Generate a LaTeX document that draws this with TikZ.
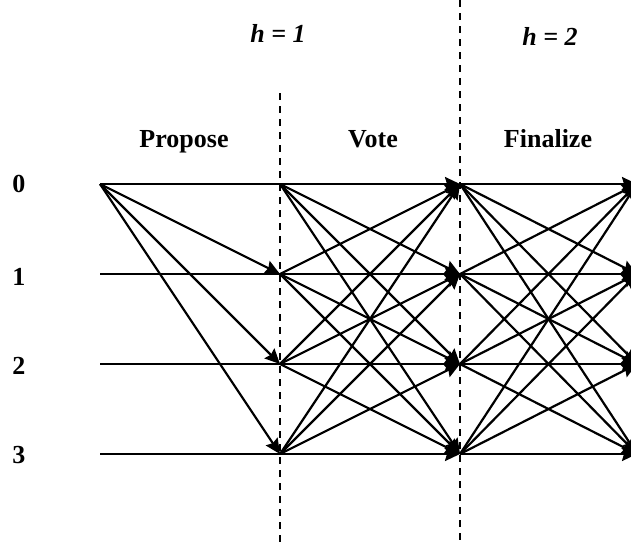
\documentclass[tikz,border=0pt]{standalone}
\usepackage{fontspec}
\setmainfont{Liberation Serif}
\usetikzlibrary{arrows.meta}

\begin{document}
\begin{tikzpicture}[
    x=1pt, y=-1pt,
    >={Stealth[length=15pt, width=14pt, inset=2pt]},
    lane/.style={line width=2.4pt},
    arr/.style={->, line width=2.2pt},
    sep/.style={line width=2pt, dash pattern=on 7pt off 6pt},
    lbl/.style={font=\fontsize{26}{30}\selectfont\bfseries, anchor=base},
    hlbl/.style={font=\fontsize{26}{30}\selectfont\bfseries\itshape, anchor=base},
]
\useasboundingbox (0,0) rectangle (631,542);

% Column positions
\def\colA{100}
\def\colB{280}
\def\colC{460}
\def\colD{637}

% Row positions
\def\rowA{184}
\def\rowB{274}
\def\rowC{364}
\def\rowD{454}

% Height and phase headers
\node[hlbl] (hone) at (278, 42) {h = 1};
\node[hlbl] (htwo) at (550, 45) {h = 2};
\node[lbl] (propose)  at (184, 147) {Propose};
\node[lbl] (vote)     at (373, 147) {Vote};
\node[lbl] (finalize) at (548, 147) {Finalize};

% Replica labels
\node[lbl] (rzero)  at (19, 192) {0};
\node[lbl] (rone)   at (19, 285) {1};
\node[lbl] (rtwo)   at (19, 374) {2};
\node[lbl] (rthree) at (19, 463) {3};

% Phase separators
\coordinate (sepBtop) at (\colB, 93);
\coordinate (sepBbot) at (\colB, 542);
\coordinate (sepCtop) at (\colC, 0);
\coordinate (sepCbot) at (\colC, 542);
\draw[sep] (sepBtop) -- (sepBbot);
\draw[sep] (sepCtop) -- (sepCbot);

% --- Replica points ---
\coordinate (p0) at (\colA, \rowA);
\coordinate (p1) at (\colA, \rowB);
\coordinate (p2) at (\colA, \rowC);
\coordinate (p3) at (\colA, \rowD);
\coordinate (v0) at (\colB, \rowA);
\coordinate (v1) at (\colB, \rowB);
\coordinate (v2) at (\colB, \rowC);
\coordinate (v3) at (\colB, \rowD);
\coordinate (f0) at (\colC, \rowA);
\coordinate (f1) at (\colC, \rowB);
\coordinate (f2) at (\colC, \rowC);
\coordinate (f3) at (\colC, \rowD);
\coordinate (e0) at (\colD, \rowA);
\coordinate (e1) at (\colD, \rowB);
\coordinate (e2) at (\colD, \rowC);
\coordinate (e3) at (\colD, \rowD);

% --- Propose: replica 0 sends to all ---
\draw[lane] (p0) -- (v0);
\draw[lane] (p1) -- (v1);
\draw[lane] (p2) -- (v2);
\draw[lane] (p3) -- (v3);
\draw (p0) edge[arr] (v1) edge[arr] (v2) edge[arr] (v3);

% --- Vote: all to all ---
\draw (v0) edge[arr] (f0) edge[arr] (f1) edge[arr] (f2) edge[arr] (f3);
\draw (v1) edge[arr] (f0) edge[arr] (f1) edge[arr] (f2) edge[arr] (f3);
\draw (v2) edge[arr] (f0) edge[arr] (f1) edge[arr] (f2) edge[arr] (f3);
\draw (v3) edge[arr] (f0) edge[arr] (f1) edge[arr] (f2) edge[arr] (f3);

% --- Finalize: all to all ---
\draw (f0) edge[arr] (e0) edge[arr] (e1) edge[arr] (e2) edge[arr] (e3);
\draw (f1) edge[arr] (e0) edge[arr] (e1) edge[arr] (e2) edge[arr] (e3);
\draw (f2) edge[arr] (e0) edge[arr] (e1) edge[arr] (e2) edge[arr] (e3);
\draw (f3) edge[arr] (e0) edge[arr] (e1) edge[arr] (e2) edge[arr] (e3);

\end{tikzpicture}
\end{document}
